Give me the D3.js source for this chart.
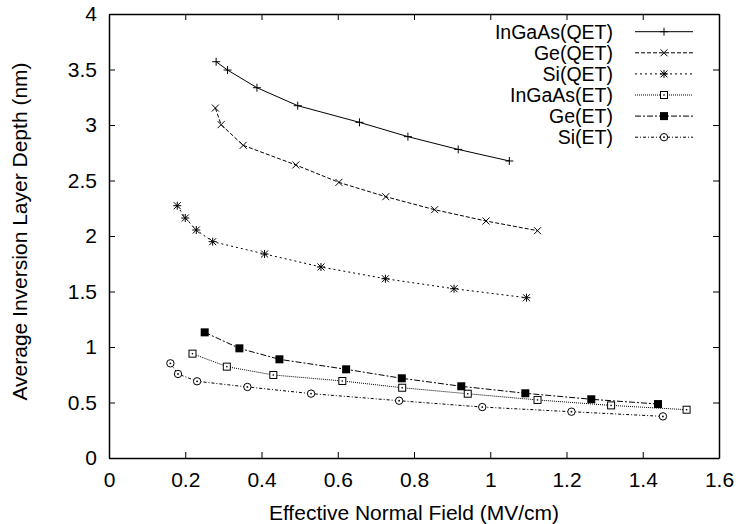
<!DOCTYPE html>
<html>
<head>
<meta charset="utf-8">
<script src="https://cdn.jsdelivr.net/npm/d3@7"></script>
<style>
body { margin: 0; background: #fff; }
text { font-family: "Liberation Sans", Arial, Helvetica, sans-serif; fill: #000; }
</style>
</head>
<body>
<div id="chart"></div>
<script>

// ******* DATA *******
var seriesNames = ["InGaAs(QET)", "Ge(QET)", "Si(QET)", "InGaAs(ET)", "Ge(ET)", "Si(ET)"];

var inGaAsQetField = [0.281, 0.311, 0.388, 0.495, 0.657, 0.784, 0.916, 1.05];
var inGaAsQetDepth = [3.57, 3.495, 3.336, 3.174, 3.024, 2.895, 2.78, 2.676];

var geQetField = [0.279, 0.294, 0.352, 0.490, 0.603, 0.726, 0.854, 0.989, 1.124];
var geQetDepth = [3.153, 3.003, 2.817, 2.640, 2.483, 2.354, 2.237, 2.135, 2.048];

var siQetField = [0.179, 0.200, 0.229, 0.272, 0.408, 0.556, 0.725, 0.905, 1.095];
var siQetDepth = [2.273, 2.162, 2.054, 1.949, 1.838, 1.721, 1.615, 1.525, 1.444];

var inGaAsEtField = [0.219, 0.309, 0.431, 0.612, 0.769, 0.941, 1.124, 1.317, 1.515];
var inGaAsEtDepth = [0.940, 0.823, 0.748, 0.694, 0.633, 0.579, 0.523, 0.474, 0.435];

var geEtField = [0.251, 0.342, 0.447, 0.622, 0.768, 0.924, 1.092, 1.265, 1.440];
var geEtDepth = [1.132, 0.988, 0.889, 0.799, 0.718, 0.646, 0.583, 0.529, 0.486];

var siEtField = [0.161, 0.181, 0.231, 0.363, 0.530, 0.761, 0.979, 1.213, 1.453];
var siEtDepth = [0.853, 0.757, 0.691, 0.640, 0.580, 0.516, 0.459, 0.417, 0.375];

var xTickValues = [0, 0.2, 0.4, 0.6, 0.8, 1, 1.2, 1.4, 1.6];
var yTickValues = [0, 0.5, 1, 1.5, 2, 2.5, 3, 3.5, 4];

var xLabel = "Effective Normal Field (MV/cm)";
var yLabel = "Average Inversion Layer Depth (nm)";

// pair up x and y arrays for each series
function zipSeries(xs, ys) {
	return xs.map(function(x, i) { return {x: x, y: ys[i]}; });
}
var seriesData = [
	zipSeries(inGaAsQetField, inGaAsQetDepth),
	zipSeries(geQetField, geQetDepth),
	zipSeries(siQetField, siQetDepth),
	zipSeries(inGaAsEtField, inGaAsEtDepth),
	zipSeries(geEtField, geEtDepth),
	zipSeries(siEtField, siEtDepth)
];

// gnuplot-like line types and point types
var dashes = ["none", "4,2", "2,3", "1,1", "6,2,2,2", "3,2,1,2"];
var markers = ["plus", "cross", "star", "box", "fbox", "circle"];

// ******* SVG drawing area *******
var margin = {top: 14, right: 20, bottom: 66, left: 109};
var width = 739 - margin.left - margin.right,
	height = 524 - margin.top - margin.bottom;

var svg = d3.select("#chart").append("svg")
		.attr("width", width + margin.left + margin.right)
		.attr("height", height + margin.top + margin.bottom)
	.append("g")
		.attr("transform", "translate(" + margin.left + "," + margin.top + ")");

var xScale = d3.scaleLinear().domain([0, 1.6]).range([0, width]);
var yScale = d3.scaleLinear().domain([0, 4]).range([height, 0]);
var fmt = d3.format("~g");

// ******* AXES (ticks inside, mirrored on top/right) *******
var xAxis = d3.axisBottom(xScale).tickValues(xTickValues).tickFormat(fmt)
	.tickSizeInner(-6).tickSizeOuter(0).tickPadding(14.5);
var yAxis = d3.axisLeft(yScale).tickValues(yTickValues).tickFormat(fmt)
	.tickSizeInner(-6).tickSizeOuter(0).tickPadding(12);
var xAxisTop = d3.axisTop(xScale).tickValues(xTickValues).tickFormat("")
	.tickSizeInner(-6).tickSizeOuter(0);
var yAxisRight = d3.axisRight(yScale).tickValues(yTickValues).tickFormat("")
	.tickSizeInner(-6).tickSizeOuter(0);

svg.append("g").attr("class", "axis")
	.attr("transform", "translate(0," + height + ")").call(xAxis);
svg.append("g").attr("class", "axis").call(yAxis);
svg.append("g").attr("class", "axis").call(xAxisTop);
svg.append("g").attr("class", "axis")
	.attr("transform", "translate(" + width + ",0)").call(yAxisRight);

svg.selectAll(".axis text")
	.style("font-size", "21px")
	.attr("fill", "#000");
svg.selectAll(".axis line").attr("stroke", "#000").attr("stroke-width", 1);
svg.selectAll(".axis .domain").attr("stroke", "#000").attr("stroke-width", 1.5);

// axis titles
svg.append("text")
	.attr("x", width / 2)
	.attr("y", height + 62)
	.attr("text-anchor", "middle")
	.style("font-size", "21px")
	.text(xLabel);

svg.append("text")
	.attr("transform", "translate(" + (26.5 - margin.left) + "," + (231.5 - margin.top) + ") rotate(-90)")
	.attr("text-anchor", "middle")
	.style("font-size", "21px")
	.text(yLabel);

// ******* MARKERS *******
function drawMarker(sel, type) {
	if (type == "plus" || type == "star") {
		sel.append("path").attr("d", "M-4,0H4M0,-4V4")
			.attr("stroke", "#000").attr("fill", "none");
	}
	if (type == "cross" || type == "star") {
		sel.append("path").attr("d", "M-3.5,-3.5L3.5,3.5M-3.5,3.5L3.5,-3.5")
			.attr("stroke", "#000").attr("fill", "none");
	}
	if (type == "box") {
		sel.append("rect").attr("x", -3.5).attr("y", -3.5).attr("width", 7).attr("height", 7)
			.attr("stroke", "#000").attr("fill", "#fff");
		sel.append("rect").attr("x", -0.7).attr("y", -0.7).attr("width", 1.4).attr("height", 1.4)
			.attr("fill", "#000");
	}
	if (type == "fbox") {
		sel.append("rect").attr("x", -4).attr("y", -4).attr("width", 8).attr("height", 8)
			.attr("fill", "#000");
	}
	if (type == "circle") {
		sel.append("circle").attr("r", 3.7)
			.attr("stroke", "#000").attr("fill", "#fff");
		sel.append("circle").attr("r", 0.9).attr("fill", "#000");
	}
}

// ******* LINES + POINTS *******
var line = d3.line()
	.x(function(d) { return xScale(d.x); })
	.y(function(d) { return yScale(d.y); });

seriesData.forEach(function(data, i) {
	svg.append("path")
		.datum(data)
		.attr("d", line)
		.attr("fill", "none")
		.attr("stroke", "#000")
		.attr("stroke-width", 1)
		.attr("stroke-dasharray", dashes[i]);

	svg.selectAll(".pt" + i)
		.data(data)
		.enter().append("g")
		.attr("class", "pt" + i)
		.attr("transform", function(d) { return "translate(" + xScale(d.x) + "," + yScale(d.y) + ")"; })
		.each(function() { drawMarker(d3.select(this), markers[i]); });
});

// ******* LEGEND *******
var legend = svg.append("g")
	.attr("transform", "translate(" + (613 - margin.left) + "," + (31.7 - margin.top) + ")");

seriesNames.forEach(function(name, i) {
	var row = legend.append("g").attr("transform", "translate(0," + (i * 21.1) + ")");
	row.append("text")
		.attr("x", 0)
		.attr("dy", "0.35em")
		.attr("text-anchor", "end")
		.style("font-size", "19.5px")
		.text(name);
	row.append("line")
		.attr("x1", 22).attr("x2", 80)
		.attr("stroke", "#000").attr("stroke-width", 1)
		.attr("stroke-dasharray", dashes[i]);
	row.append("g")
		.attr("transform", "translate(51,0)")
		.call(drawMarker, markers[i]);
});

</script>
</body>
</html>
